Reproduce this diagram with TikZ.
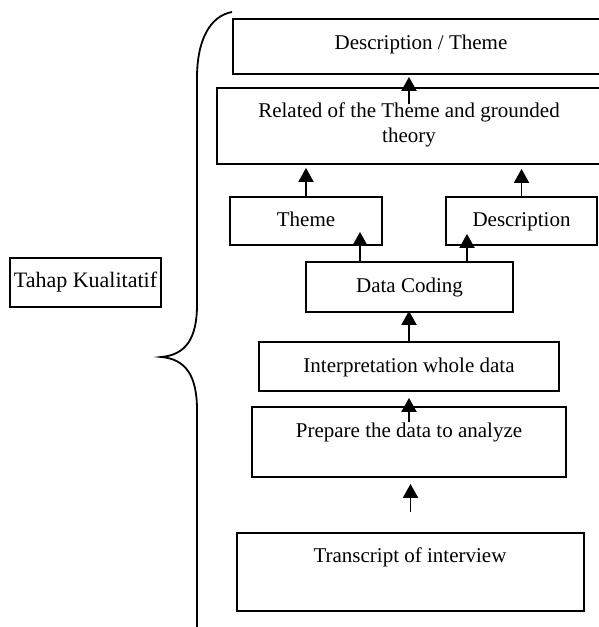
\documentclass[tikz,border=0pt]{standalone}
\usepackage{fontspec}
\setmainfont{Liberation Serif}
\usetikzlibrary{arrows.meta}
\begin{document}
\begin{tikzpicture}[x=1pt,y=-1pt,
  box/.style={draw, line width=1.8pt, inner sep=0pt},
  txt/.style={font=\fontsize{21}{25}\selectfont, inner sep=0pt, text height=14pt, text depth=4pt},
  txt2/.style={font=\fontsize{21}{25}\selectfont, inner sep=0pt, align=center},
  arr/.style={line width=1.9pt, -{Triangle[width=15pt,length=14pt]}},
  brace/.style={line width=1.8pt}]
\useasboundingbox (0,0) rectangle (599,627);
\clip (0,0) rectangle (599,627);

% boxes
\node[box, minimum width=376pt, minimum height=55pt] (dt) at (421,46.5) {};
\node[txt] (dtT) at (421,44) {Description / Theme};

\node[box, minimum width=384pt, minimum height=76pt] (rel) at (409,126) {};
\node[txt2] (relT) at (409,125) {Related of the Theme and grounded\\theory};

\node[box, minimum width=152pt, minimum height=48pt] (theme) at (306,221) {};
\node[txt] (themeT) at (306,221) {Theme};

\node[box, minimum width=151pt, minimum height=48pt] (desc) at (521.5,221) {};
\node[txt] (descT) at (521.5,221) {Description};

\node[box, minimum width=207pt, minimum height=50pt] (dc) at (409.5,287) {};
\node[txt] (dcT) at (409.5,287) {Data Coding};

\node[box, minimum width=300pt, minimum height=49pt] (interp) at (409,366.5) {};
\node[txt] (interpT) at (409,367) {Interpretation whole data};

\node[box, minimum width=314pt, minimum height=70pt] (prep) at (409,442) {};
\node[txt] (prepT) at (409,432) {Prepare the data to analyze};

\node[box, minimum width=347pt, minimum height=78pt] (trans) at (410.5,572) {};
\node[txt] (transT) at (410,557) {Transcript of interview};

\node[box, minimum width=151pt, minimum height=49pt] (tahap) at (85.5,282.5) {};
\node[txt, font=\fontsize{22}{25}\selectfont] (tahapT) at (85.5,282.5) {Tahap Kualitatif};

% curly brace grouping the steps
\draw[brace] (232,12) .. controls (210,16) and (197,40) .. (197,78)
  -- (197,305) .. controls (197,338) and (186,355) .. (161,357)
  .. controls (186,359) and (197,376) .. (197,410) -- (197,630);

% arrow start points
\coordinate (relA) at ([yshift=-17pt]rel.north);
\coordinate (dcL) at ([xshift=-49.5pt]dc.north);
\coordinate (dcR) at ([xshift=57.5pt]dc.north);
\coordinate (prepA) at ([yshift=-16pt]prep.north);
\coordinate (transA) at ([yshift=20pt]trans.north);

% arrows
\draw[arr, shorten >=2pt] (relA) -- (relA |- dt.south);
\draw[arr, shorten >=3pt] (theme.north) -- (theme.north |- rel.south);
\draw[arr, shorten >=4pt] (desc.north) -- (desc.north |- rel.south);
\draw[arr, shorten >=-14pt] (dcL) -- (dcL |- theme.south);
\draw[arr, shorten >=-12pt] (dcR) -- (dcR |- desc.south);
\draw[arr, shorten >=-2pt] (interp.north) -- (interp.north |- dc.south);
\draw[arr, shorten >=6pt] (prepA) -- (prepA |- interp.south);
\draw[arr, shorten >=6pt] (transA) -- (transA |- prep.south);
\end{tikzpicture}
\end{document}
